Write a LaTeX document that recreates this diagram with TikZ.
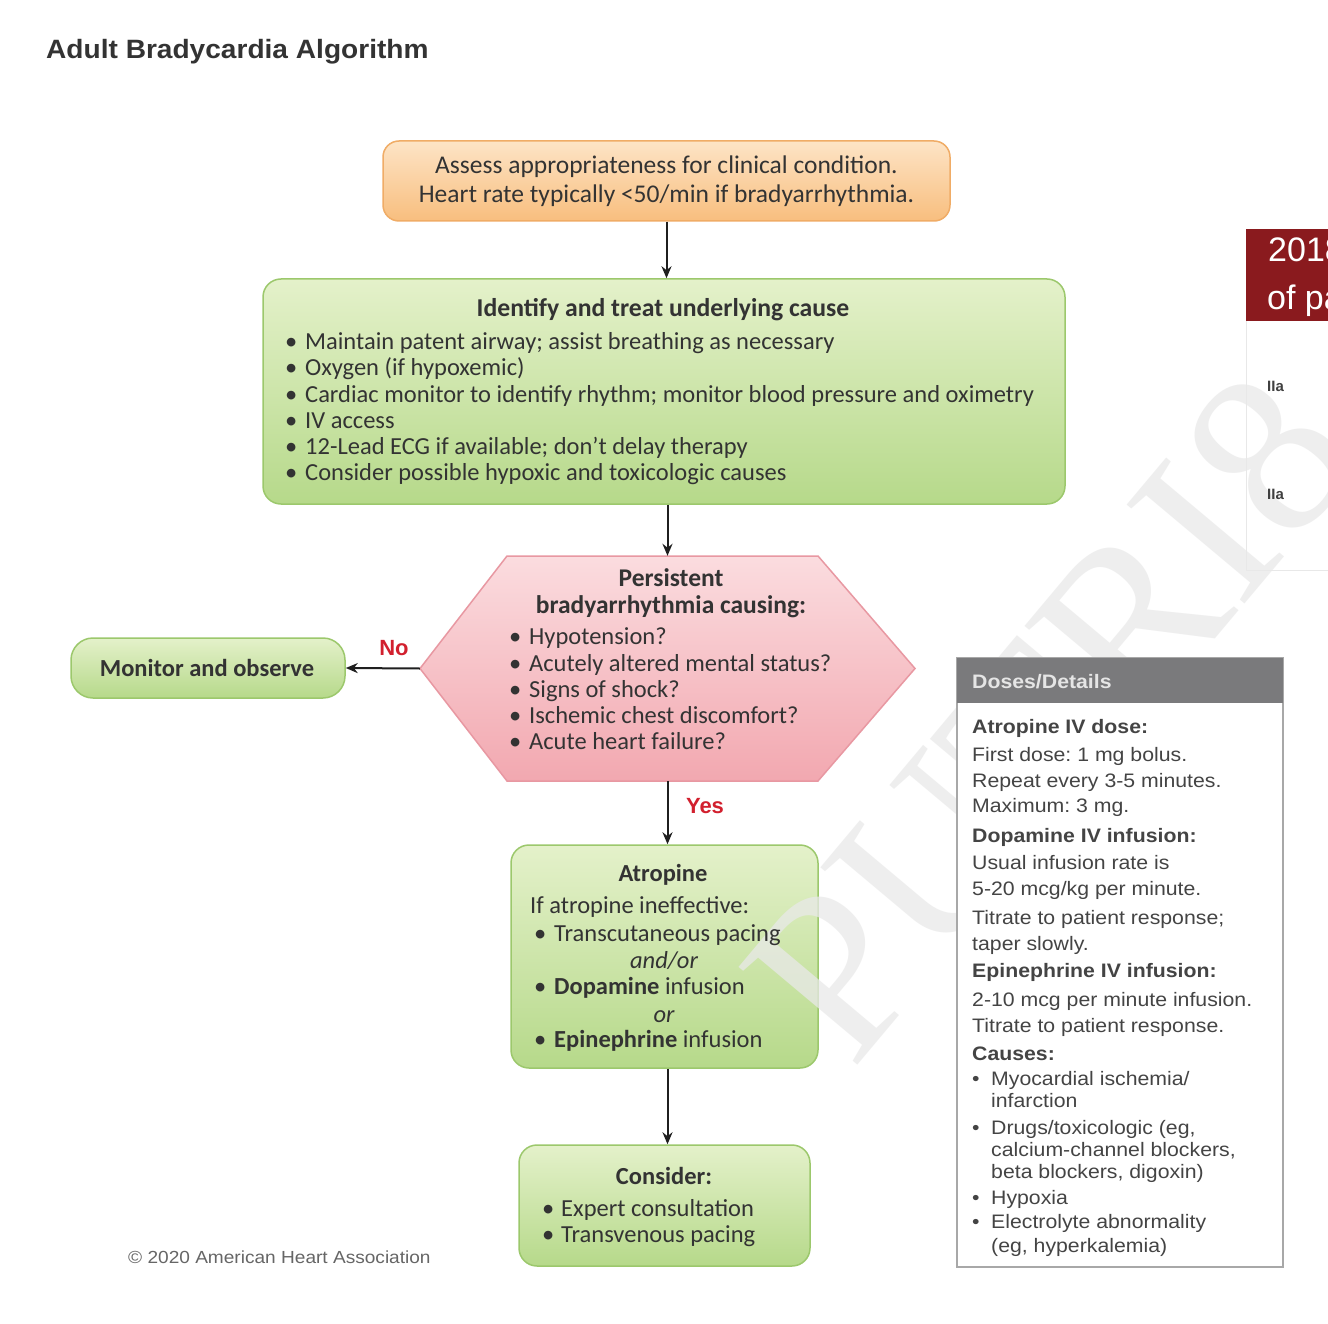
\documentclass[tikz,border=0pt]{standalone}
\usepackage{fontspec}
\setmainfont{Carlito}
\newfontfamily\dfont[FakeStretch=1.09]{Liberation Sans}
\newfontfamily\tfont[FakeStretch=1.06]{Liberation Sans}
\newfontfamily\lfont{Liberation Sans}
\newfontfamily\wfont{Liberation Serif}
\usetikzlibrary{arrows.meta}
\pgfdeclarelayer{shp}
\pgfdeclarelayer{wmk}
\pgfsetlayers{shp,wmk,main}
\definecolor{txt}{HTML}{333333}
\definecolor{dtxt}{HTML}{444444}
\definecolor{orT}{HTML}{FDE4C6}
\definecolor{orB}{HTML}{F8BE7E}
\definecolor{orD}{HTML}{F0AC66}
\definecolor{grT}{HTML}{E4F1CA}
\definecolor{grB}{HTML}{B6D98A}
\definecolor{grD}{HTML}{9CC86C}
\definecolor{pkT}{HTML}{FBDCDF}
\definecolor{pkB}{HTML}{F2A8B0}
\definecolor{pkD}{HTML}{E898A2}
\definecolor{lab}{HTML}{D2202E}
\definecolor{hdr}{HTML}{7A7A7C}
\definecolor{dbd}{HTML}{A8A8A8}
\definecolor{maroon}{HTML}{8A1A1E}
\definecolor{wmc}{HTML}{E9E9E9}
\newcommand\myfb{\fontsize{24.5}{26}\selectfont}
\newcommand\myfd{\dfont\fontsize{19.5}{22}\selectfont}
\newcommand\bul[1]{\makebox[#1][l]{•}}
\tikzset{
  tx/.style={inner sep=0pt, text=txt, font=\myfb},
  lnw/.style={tx, anchor=base west},
  lnc/.style={tx, anchor=base},
  dl/.style={inner sep=0pt, text=dtxt, font=\myfd, anchor=base west},
  gbox/.style={draw=grD, line width=1.5pt, top color=grT, bottom color=grB, inner sep=0pt},
  arr/.style={draw=black!88, line width=2pt, -{Stealth[length=12pt,width=10pt]}},
  yn/.style={inner sep=0pt, text=lab, font=\lfont\bfseries\fontsize{22}{22}\selectfont, anchor=base},
  wml/.style={rotate=50, text=wmc, text opacity=0.75, inner sep=0pt, font=\wfont\fontsize{235}{235}\selectfont}
}
\begin{document}
\frenchspacing
\begin{tikzpicture}[x=1pt,y=-1pt]
\useasboundingbox (0,0) rectangle (1328,1324);

\begin{pgfonlayer}{shp}
\fill[white] (0,0) rectangle (1328,1324);
% box 1
\node[draw=orD, line width=1.5pt, top color=orT, bottom color=orB, rounded corners=16pt,
  minimum width=567pt, minimum height=80pt, inner sep=0pt, align=center, text=txt,
  font=\fontsize{25.5}{29}\selectfont] (b1) at (666.5,181)
  {Assess appropriateness for clinical condition.\\Heart rate typically <50/min if bradyarrhythmia.};
% box 2
\node[gbox, rounded corners=18pt, minimum width=802pt, minimum height=225pt] (b2) at (664,391.5) {};
% hexagon
\shade[top color=pkT, bottom color=pkB, draw=pkD, line width=1.5pt]
  (507,556) -- (818,556) -- (915,668.5) -- (818,781) -- (507,781) -- (420,668.5) -- cycle;
\node[minimum width=495pt, minimum height=225pt, inner sep=0pt] (hex) at (667.5,668.5) {};
% monitor
\node[gbox, rounded corners=22pt, minimum width=274pt, minimum height=60pt] (mon) at (208,668) {};
% atropine
\node[gbox, rounded corners=18pt, minimum width=307pt, minimum height=223pt] (atro) at (664.5,956.5) {};
% consider
\node[gbox, rounded corners=18pt, minimum width=291pt, minimum height=121pt] (cons) at (664.5,1205.5) {};
\end{pgfonlayer}

% watermark (faint, letter by letter)
\begin{pgfonlayer}{wmk}
\begin{scope}
\clip (0,0) rectangle (1328,1324);
\node[wml] (wmP) at (836,972) {P};
\node[wml] (wmU) at (932,857) {U};
\node[wml] (wmT) at (1033,737) {T};
\node[wml] (wmR) at (1130,621) {R};
\node[wml] (wmI) at (1206,531) {I};
\node[wml] (wm8) at (1269,455) {8};
\end{scope}
\end{pgfonlayer}

% title
\node[inner sep=0pt, anchor=base west, text=txt, font=\tfont\bfseries\fontsize{26.5}{28}\selectfont] (title) at (46,59) {Adult Bradycardia Algorithm};

% box 2 text
\node[lnc, font=\fontsize{25.7}{26}\selectfont\bfseries] (b2t) at (663,317) {Identify and treat underlying cause};
\node[lnw] (b2a) at (285,349) {\bul{20pt}Maintain patent airway; assist breathing as necessary};
\node[lnw] (b2b) at (285,375) {\bul{20pt}Oxygen (if hypoxemic)};
\node[lnw] (b2c) at (285,402) {\bul{20pt}Cardiac monitor to identify rhythm; monitor blood pressure and oximetry};
\node[lnw] (b2d) at (285,428) {\bul{20pt}IV access};
\node[lnw] (b2e) at (285,454) {\bul{20pt}12-Lead ECG if available; don’t delay therapy};
\node[lnw] (b2f) at (285,480) {\bul{20pt}Consider possible hypoxic and toxicologic causes};

% hexagon text
\node[lnc, font=\fontsize{25.5}{26}\selectfont\bfseries] (hext1) at (671,586) {Persistent};
\node[lnc, font=\fontsize{25.5}{26}\selectfont\bfseries] (hext2) at (671,613) {bradyarrhythmia causing:};
\node[lnw] (hexa) at (509,644) {\bul{20pt}Hypotension?};
\node[lnw] (hexb) at (509,671) {\bul{20pt}Acutely altered mental status?};
\node[lnw] (hexc) at (509,697) {\bul{20pt}Signs of shock?};
\node[lnw] (hexd) at (509,723) {\bul{20pt}Ischemic chest discomfort?};
\node[lnw] (hexe) at (509,749) {\bul{20pt}Acute heart failure?};

% monitor text
\node[lnc, font=\myfb\bfseries] (mont) at (207,676) {Monitor and observe};

% atropine text
\node[lnc, font=\myfb\bfseries] (atrot) at (663,881) {Atropine};
\node[lnw] (atroa) at (530,913) {If atropine ineffective:};
\node[lnw] (atrob) at (534,941) {\bul{20pt}Transcutaneous pacing};
\node[lnc, font=\myfb\itshape] (atroc) at (664,968) {and/or};
\node[lnw] (atrod) at (534,994) {\bul{20pt}\textbf{Dopamine} infusion};
\node[lnc, font=\myfb\itshape] (atroe) at (664,1022) {or};
\node[lnw] (atrof) at (534,1047) {\bul{20pt}\textbf{Epinephrine} infusion};

% consider text
\node[lnc, font=\myfb\bfseries] (const) at (664,1184) {Consider:};
\node[lnw] (consa) at (542,1216) {\bul{19pt}Expert consultation};
\node[lnw] (consb) at (542,1242) {\bul{19pt}Transvenous pacing};

% connectors
\draw[arr] (b1.south) -- (b1.south |- b2.north);
\draw[arr] (b2.south -| hex.north) -- (hex.north);
\draw[arr] (hex.west) -- (mon.east);
\draw[arr] (hex.south) -- (hex.south |- atro.north);
\draw[arr] (atro.south -| hex.south) -- (hex.south |- cons.north);
\node[yn] (no) at (394,655) {No};
\node[yn] (yes) at (705,813) {Yes};

% copyright
\node[inner sep=0pt, anchor=base west, text=black!60, font=\dfont\fontsize{17.5}{20}\selectfont] (copy) at (128,1263) {© 2020 American Heart Association};

% doses box
\node[draw=dbd, line width=1.5pt, fill=white, minimum width=326pt, minimum height=609pt, inner sep=0pt] (db) at (1120,962.5) {};
\node[fill=hdr, minimum width=326pt, minimum height=45pt, inner sep=0pt] (dh) at (1120,680.5) {};
\node[inner sep=0pt, anchor=base west, text=black!10, font=\dfont\bfseries\fontsize{19.5}{22}\selectfont] (dht) at (972,688) {Doses/Details};
\node[dl, font=\myfd\bfseries] (d1) at (972,733) {Atropine IV dose:};
\node[dl] (d2) at (972,761) {First dose: 1 mg bolus.};
\node[dl] (d3) at (972,787) {Repeat every 3-5 minutes.};
\node[dl] (d4) at (972,812) {Maximum: 3 mg.};
\node[dl, font=\myfd\bfseries] (d5) at (972,842) {Dopamine IV infusion:};
\node[dl] (d6) at (972,869) {Usual infusion rate is};
\node[dl] (d7) at (972,895) {5-20 mcg/kg per minute.};
\node[dl] (d8) at (972,924) {Titrate to patient response;};
\node[dl] (d9) at (972,950) {taper slowly.};
\node[dl, font=\myfd\bfseries] (d10) at (972,977) {Epinephrine IV infusion:};
\node[dl] (d11) at (972,1006) {2-10 mcg per minute infusion.};
\node[dl] (d12) at (972,1032) {Titrate to patient response.};
\node[dl, font=\myfd\bfseries] (d13) at (972,1060) {Causes:};
\node[dl] (d14) at (972,1085) {\bul{19pt}Myocardial ischemia/};
\node[dl] (d15) at (991,1107) {infarction};
\node[dl] (d16) at (972,1134) {\bul{19pt}Drugs/toxicologic (eg,};
\node[dl] (d17) at (991,1156) {calcium-channel blockers,};
\node[dl] (d18) at (991,1178) {beta blockers, digoxin)};
\node[dl] (d19) at (972,1204) {\bul{19pt}Hypoxia};
\node[dl] (d20) at (972,1228) {\bul{19pt}Electrolyte abnormality};
\node[dl] (d21) at (991,1252) {(eg, hyperkalemia)};

% side panel (cut off at right edge)
\begin{scope}
\clip (0,0) rectangle (1328,1324);
\draw[draw=black!9, line width=1pt] (1246,321) -- (1246,570) -- (1340,570);
\node[fill=maroon, minimum width=100pt, minimum height=92pt, inner sep=0pt, anchor=north west] (sp) at (1246,229) {};
\node[inner sep=0pt, anchor=base west, text=white, font=\lfont\fontsize{34}{36}\selectfont] (sp1) at (1268,262) {2018};
\node[inner sep=0pt, anchor=base west, text=white, font=\lfont\fontsize{34}{36}\selectfont] (sp2) at (1267,310) {of pa};
\node[inner sep=0pt, anchor=base west, text=black!75, font=\lfont\bfseries\fontsize{15}{16}\selectfont] (ia1) at (1267,391) {IIa};
\node[inner sep=0pt, anchor=base west, text=black!75, font=\lfont\bfseries\fontsize{15}{16}\selectfont] (ia2) at (1267,499) {IIa};
\end{scope}
\end{tikzpicture}
\end{document}
